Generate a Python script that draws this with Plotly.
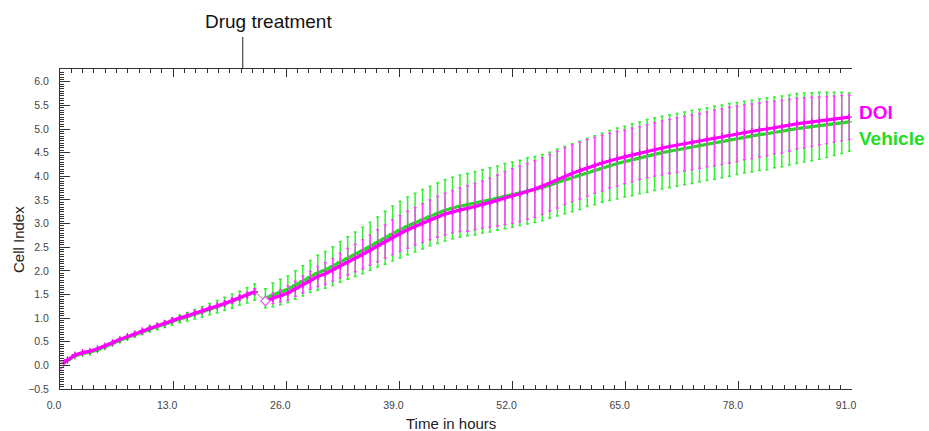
import numpy as np
import plotly.graph_objects as go

# ---------------- data ----------------
STEP = 0.86  # sampling interval (h) of the plotted points
pre_time = np.round(np.arange(27) * STEP, 2)          # 0 .. 22.36 h
post_time = np.round(23.6 + np.arange(79) * STEP, 2)  # 23.6 .. 90.68 h
DRUG_TIME = 21.0

doi_pre = [0.00, 0.12, 0.22, 0.27, 0.30, 0.35, 0.41, 0.48, 0.55, 0.61, 0.67, 0.73, 0.79, 0.84,
           0.89, 0.95, 1.00, 1.05, 1.10, 1.15, 1.21, 1.26, 1.31, 1.37, 1.43, 1.49, 1.56]
veh_pre = [0.00, 0.11, 0.20, 0.25, 0.28, 0.33, 0.39, 0.46, 0.53, 0.59, 0.65, 0.71, 0.77, 0.82,
           0.87, 0.93, 0.98, 1.03, 1.08, 1.13, 1.19, 1.24, 1.30, 1.36, 1.42, 1.48, 1.55]
doi_pre_sd = [0.00, 0.01, 0.01, 0.01, 0.01, 0.01, 0.01, 0.02, 0.02, 0.02, 0.02, 0.02, 0.02, 0.03,
              0.03, 0.03, 0.03, 0.03, 0.04, 0.04, 0.04, 0.04, 0.05, 0.05, 0.05, 0.05, 0.06]
veh_pre_sd = [0.00, 0.02, 0.02, 0.02, 0.03, 0.03, 0.03, 0.03, 0.04, 0.04, 0.05, 0.05, 0.06, 0.06,
              0.07, 0.08, 0.08, 0.09, 0.10, 0.11, 0.12, 0.13, 0.14, 0.15, 0.15, 0.16, 0.17]

doi_post = [1.36, 1.42, 1.47, 1.53, 1.62, 1.71, 1.80, 1.88, 1.94, 2.02, 2.11, 2.19, 2.27, 2.35,
            2.44, 2.53, 2.62, 2.71, 2.79, 2.87, 2.94, 3.01, 3.08, 3.14, 3.20, 3.25, 3.29, 3.32,
            3.36, 3.40, 3.44, 3.49, 3.54, 3.58, 3.63, 3.68, 3.73, 3.79, 3.86, 3.93, 4.00, 4.06,
            4.12, 4.18, 4.23, 4.28, 4.33, 4.37, 4.41, 4.45, 4.49, 4.53, 4.57, 4.60, 4.63, 4.66,
            4.69, 4.72, 4.75, 4.78, 4.81, 4.84, 4.87, 4.90, 4.93, 4.95, 4.98, 5.00, 5.03, 5.05,
            5.08, 5.11, 5.13, 5.15, 5.17, 5.19, 5.21, 5.23, 5.25]
veh_post = [1.42, 1.49, 1.55, 1.61, 1.70, 1.79, 1.88, 1.96, 2.02, 2.10, 2.19, 2.27, 2.35, 2.43,
            2.52, 2.61, 2.70, 2.79, 2.87, 2.95, 3.02, 3.09, 3.16, 3.22, 3.28, 3.33, 3.37, 3.40,
            3.43, 3.47, 3.50, 3.54, 3.58, 3.61, 3.65, 3.69, 3.72, 3.76, 3.81, 3.87, 3.92, 3.97,
            4.02, 4.08, 4.13, 4.18, 4.23, 4.27, 4.31, 4.35, 4.39, 4.43, 4.47, 4.50, 4.53, 4.56,
            4.59, 4.62, 4.65, 4.68, 4.71, 4.74, 4.77, 4.80, 4.83, 4.85, 4.88, 4.90, 4.93, 4.95,
            4.98, 5.01, 5.03, 5.05, 5.07, 5.09, 5.11, 5.13, 5.15]
doi_post_sd = [0.08, 0.11, 0.13, 0.15, 0.16, 0.18, 0.19, 0.21, 0.23, 0.24, 0.26, 0.28, 0.29, 0.31,
               0.32, 0.34, 0.35, 0.37, 0.38, 0.39, 0.40, 0.41, 0.42, 0.43, 0.44, 0.45, 0.46, 0.48,
               0.49, 0.50, 0.52, 0.54, 0.56, 0.58, 0.59, 0.59, 0.60, 0.60, 0.60, 0.60, 0.60, 0.60,
               0.60, 0.60, 0.59, 0.59, 0.58, 0.58, 0.57, 0.57, 0.56, 0.56, 0.57, 0.57, 0.57, 0.58,
               0.58, 0.58, 0.58, 0.58, 0.59, 0.59, 0.59, 0.59, 0.58, 0.58, 0.57, 0.57, 0.56, 0.56,
               0.55, 0.54, 0.53, 0.52, 0.51, 0.50, 0.49, 0.48, 0.47]
veh_post_sd = [0.20, 0.25, 0.27, 0.28, 0.30, 0.32, 0.34, 0.37, 0.39, 0.41, 0.43, 0.45, 0.47, 0.49,
               0.51, 0.53, 0.56, 0.58, 0.60, 0.61, 0.62, 0.63, 0.63, 0.64, 0.65, 0.65, 0.66, 0.66,
               0.67, 0.67, 0.68, 0.68, 0.69, 0.69, 0.69, 0.70, 0.70, 0.70, 0.70, 0.71, 0.71, 0.72,
               0.72, 0.72, 0.73, 0.73, 0.74, 0.75, 0.75, 0.76, 0.76, 0.77, 0.77, 0.77, 0.77, 0.77,
               0.77, 0.77, 0.77, 0.77, 0.77, 0.77, 0.77, 0.76, 0.76, 0.76, 0.76, 0.76, 0.75, 0.75,
               0.74, 0.74, 0.73, 0.72, 0.71, 0.69, 0.67, 0.65, 0.62]

x_ticks = [0, 13, 26, 39, 52, 65, 78, 91]
y_ticks = [-0.5, 0.0, 0.5, 1.0, 1.5, 2.0, 2.5, 3.0, 3.5, 4.0, 4.5, 5.0, 5.5, 6.0]

# ---------------- styles ----------------
FONT = "Arial, Liberation Sans, sans-serif"
DOI_C = "#FF00FF"
DOI_BAR = "#FF44FF"
VEH_C = "#22DD22"
VEH_BAR = "#33EE33"

fig = go.Figure()


def add_series(t, v, sd, line_c, bar_c):
    fig.add_trace(go.Scatter(
        x=t, y=v, mode="lines+markers",
        line=dict(color=line_c, width=3.2),
        marker=dict(symbol="cross-thin-open", size=5, color=line_c,
                    line=dict(color=line_c, width=1.2)),
        error_y=dict(type="data", array=sd, visible=True, color=bar_c,
                     thickness=1.5, width=1.5),
        showlegend=False, hoverinfo="skip"))


# Vehicle first (under), DOI on top
for t, v, sd in [(pre_time, veh_pre, veh_pre_sd), (post_time, veh_post, veh_post_sd)]:
    add_series(t, v, sd, VEH_C, VEH_BAR)
for t, v, sd in [(pre_time, doi_pre, doi_pre_sd), (post_time, doi_post, doi_post_sd)]:
    add_series(t, v, sd, DOI_C, DOI_BAR)

# thin connector across the drug-addition gap
fig.add_trace(go.Scatter(
    x=[pre_time[-1], post_time[0]], y=[doi_pre[-1], doi_post[0]],
    mode="lines", line=dict(color="#B070B0", width=1),
    showlegend=False, hoverinfo="skip"))

# open diamonds at the start of each segment
fig.add_trace(go.Scatter(
    x=[pre_time[0], post_time[0]], y=[doi_pre[0], doi_post[0]],
    mode="markers",
    marker=dict(symbol="diamond", size=7, color="white",
                line=dict(color="#E060E0", width=1.2)),
    showlegend=False, hoverinfo="skip"))

# drug treatment marker line
fig.add_shape(type="line", xref="x", yref="paper",
              x0=DRUG_TIME, x1=DRUG_TIME, y0=1.0, y1=1.1,
              line=dict(color="#222222", width=1))

annotations = [
    dict(text="Drug treatment", xref="paper", yref="paper",
         x=(268 - 60) / 792, y=(389 - 21) / 320, xanchor="center", yanchor="middle",
         showarrow=False, font=dict(family=FONT, size=19, color="#111111")),
    dict(text="<b>DOI</b>", xref="paper", yref="paper",
         x=(857 - 60) / 792, y=(389 - 113) / 320, xanchor="left", yanchor="middle",
         showarrow=False, font=dict(family=FONT, size=19, color=DOI_C)),
    dict(text="<b>Vehicle</b>", xref="paper", yref="paper",
         x=(857 - 60) / 792, y=(389 - 138) / 320, xanchor="left", yanchor="middle",
         showarrow=False, font=dict(family=FONT, size=19, color=VEH_C)),
    dict(text="Time in hours", xref="paper", yref="paper",
         x=(451 - 60) / 792, y=(389 - 423) / 320, xanchor="center", yanchor="middle",
         showarrow=False, font=dict(family=FONT, size=15, color="#222222")),
    dict(text="Cell Index", xref="paper", yref="paper", textangle=-90,
         x=(18 - 60) / 792, y=(389 - 240) / 320, xanchor="center", yanchor="middle",
         showarrow=False, font=dict(family=FONT, size=15, color="#222222")),
]

fig.update_layout(
    width=929, height=431,
    margin=dict(l=60, r=77, t=69, b=42, autoexpand=False),
    plot_bgcolor="white", paper_bgcolor="white",
    font=dict(family=FONT, color="#333333"),
    annotations=annotations,
    showlegend=False,
)

fig.update_xaxes(
    range=[0, 91], tickvals=x_ticks, tickformat=".1f",
    ticks="inside", ticklen=8, tickcolor="#333333", tickwidth=1,
    minor=dict(dtick=1.3, tick0=0, ticks="inside", ticklen=4, tickcolor="#333333", showgrid=False),
    showline=True, linecolor="#333333", linewidth=1, mirror="ticks",
    showgrid=False, zeroline=False,
    tickfont=dict(family=FONT, size=10.5, color="#444444"),
    ticklabelstandoff=6, ticklabelshift=-6,
)
fig.update_yaxes(
    range=[-0.5, 6.27], tickvals=y_ticks, tickformat=".1f",
    ticks="inside", ticklen=10, tickcolor="#333333", tickwidth=1,
    minor=dict(dtick=0.05, tick0=0, ticks="inside", ticklen=4, tickcolor="#333333", showgrid=False),
    showline=True, linecolor="#333333", linewidth=1,
    showgrid=False, zeroline=False,
    tickfont=dict(family=FONT, size=10.5, color="#444444"),
    ticklabelstandoff=8,
)

fig.write_html("out.html",
               config={"displayModeBar": False},
               post_script="document.body.style.margin='0px';document.body.style.overflow='hidden';")
